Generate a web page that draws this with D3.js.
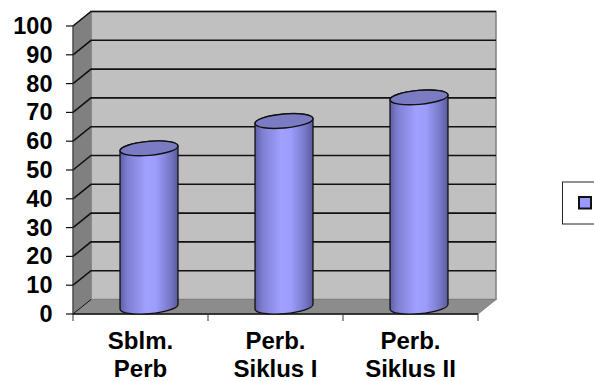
<!DOCTYPE html>
<html>
<head>
<meta charset="utf-8">
<script src="https://cdn.jsdelivr.net/npm/d3@7/dist/d3.min.js"></script>
<style>
html,body{margin:0;padding:0;background:#fff}
svg{display:block}
text{font-family:"Liberation Sans",Arial,sans-serif;font-weight:bold;fill:#000}
</style>
</head>
<body>
<svg id="chart" width="594" height="381"></svg>
<script>
const categories = [["Sblm.", "Perb"], ["Perb.", "Siklus I"], ["Perb.", "Siklus II"]];
const values = [55, 64.5, 72.7];
const tickValues = d3.range(0, 101, 10);

// Layout of the oblique 3D box
const front = {left: 73, right: 478, top: 26, bottom: 314};
const depth = {dx: 18, dy: -14.5};

const svg = d3.select("#chart");
const y = d3.scaleLinear().domain([0, 100]).range([front.bottom, front.top]);
const x = d3.scaleBand().domain(d3.range(categories.length))
  .range([front.left, front.right]);

const back = {
  left: front.left + depth.dx, right: front.right + depth.dx,
  top: front.top + depth.dy, bottom: front.bottom + depth.dy
};
const poly = pts => "M" + pts.map(p => p.join(",")).join("L") + "Z";

// Gradient running across each cylinder
const defs = svg.append("defs");
const grad = defs.append("linearGradient").attr("id", "cyl")
  .attr("x1", 0).attr("x2", 1).attr("y1", 0).attr("y2", 0);
[[0, "#5e5ea6"], [0.12, "#7d7dd0"], [0.45, "#a0a0ff"], [0.62, "#9c9cfb"],
 [0.85, "#7a7acb"], [1, "#5a5a9e"]]
  .forEach(([o, c]) => grad.append("stop").attr("offset", o).attr("stop-color", c));

// Walls and floor
svg.append("path")
  .attr("d", poly([[back.left, back.top], [back.right, back.top], [back.right, back.bottom], [back.left, back.bottom]]))
  .attr("fill", "#c0c0c0").attr("stroke", "#808080").attr("stroke-width", 1.5);
svg.append("path")
  .attr("d", poly([[front.left, front.top], [back.left, back.top], [back.left, back.bottom], [front.left, front.bottom]]))
  .attr("fill", "#808080").attr("stroke", "#808080");
svg.append("path")
  .attr("d", poly([[front.left, front.bottom], [back.left, back.bottom], [back.right, back.bottom], [front.right, front.bottom]]))
  .attr("fill", "#8c8c8c").attr("stroke", "#808080");

// Gridlines along the side wall and the back wall
const grid = tickValues.filter(v => v > 0);
svg.append("g").selectAll("path").data(grid).join("path")
  .attr("d", v => d3.line()([
    [front.left, y(v)],
    [back.left, y(v) + depth.dy],
    [back.right, y(v) + depth.dy]
  ]))
  .attr("fill", "none").attr("stroke", "#111").attr("stroke-width", 1.6);
svg.append("path")
  .attr("d", d3.line()([[front.left, front.bottom], [back.left, back.bottom]]))
  .attr("stroke", "#111").attr("stroke-width", 1);

// Front axis lines with ticks and labels
const axisLines = svg.append("g");
axisLines.append("line")
  .attr("x1", front.left).attr("x2", front.left)
  .attr("y1", front.top).attr("y2", front.bottom + 7)
  .attr("stroke", "#333").attr("stroke-width", 1);
axisLines.append("line")
  .attr("x1", front.left).attr("x2", front.right)
  .attr("y1", front.bottom).attr("y2", front.bottom)
  .attr("stroke", "#111").attr("stroke-width", 1.4);
axisLines.selectAll(".ytick").data(tickValues).join("line")
  .attr("x1", front.left - 7).attr("x2", front.left)
  .attr("y1", v => y(v)).attr("y2", v => y(v))
  .attr("stroke", "#111").attr("stroke-width", 1.2);
axisLines.selectAll(".xtick").data(d3.range(1, categories.length + 1)).join("line")
  .attr("x1", i => front.left + x.step() * i).attr("x2", i => front.left + x.step() * i)
  .attr("y1", front.bottom).attr("y2", front.bottom + 7)
  .attr("stroke", "#333").attr("stroke-width", 1);

svg.append("g").selectAll("text").data(tickValues).join("text")
  .attr("x", 52.5).attr("y", v => y(v) + 8)
  .attr("text-anchor", "end").attr("font-size", 23.5)
  .text(d => d);

// Cylinders sit midway through the depth of the box
const rx = x.bandwidth() * 0.2155;
const ry = 7;
const tilt = -5;
const midDx = depth.dx / 2 - 0.5;
const midDy = depth.dy / 2;
const ex = rx * Math.cos(tilt * Math.PI / 180);
const ey = rx * Math.sin(tilt * Math.PI / 180);

const bars = svg.append("g").selectAll("g").data(values).join("g");
bars.append("path")
  .attr("d", (v, i) => {
    const cx = x(i) + x.bandwidth() / 2 + midDx;
    const yTop = y(v) + midDy, yBase = y(0) + midDy;
    const l = cx - ex, r = cx + ex;
    return `M${l},${yTop - ey}L${l},${yBase - ey}` +
      `A${rx},${ry} ${tilt} 0 0 ${r},${yBase + ey}` +
      `L${r},${yTop + ey}` +
      `A${rx},${ry} ${tilt} 0 0 ${l},${yTop - ey}Z`;
  })
  .attr("fill", "url(#cyl)").attr("stroke", "#111").attr("stroke-width", 1.3);
bars.append("ellipse")
  .attr("cx", 0).attr("cy", 0).attr("rx", rx).attr("ry", ry)
  .attr("transform", (v, i) =>
    `translate(${x(i) + x.bandwidth() / 2 + midDx},${y(v) + midDy}) rotate(${tilt})`)
  .attr("fill", "#7b7bc4").attr("stroke", "#111").attr("stroke-width", 1.4);

// Category labels, two lines each
const cats = svg.append("g").selectAll("text").data(categories).join("text")
  .attr("text-anchor", "middle").attr("font-size", 24);
cats.selectAll("tspan").data((d, i) => d.map(t => ({t, i}))).join("tspan")
  .attr("x", d => x(d.i) + x.bandwidth() / 2)
  .attr("y", (d, j) => 349 + j * 28)
  .text(d => d.t);

// Legend box, clipped by the right edge of the page
svg.append("rect").attr("x", 562.5).attr("y", 182).attr("width", 60).attr("height", 42)
  .attr("fill", "#fff").attr("stroke", "#222").attr("stroke-width", 1);
svg.append("rect").attr("x", 579).attr("y", 197).attr("width", 12).attr("height", 11.5)
  .attr("fill", "#9999ff").attr("stroke", "#111").attr("stroke-width", 2);
</script>
</body>
</html>
